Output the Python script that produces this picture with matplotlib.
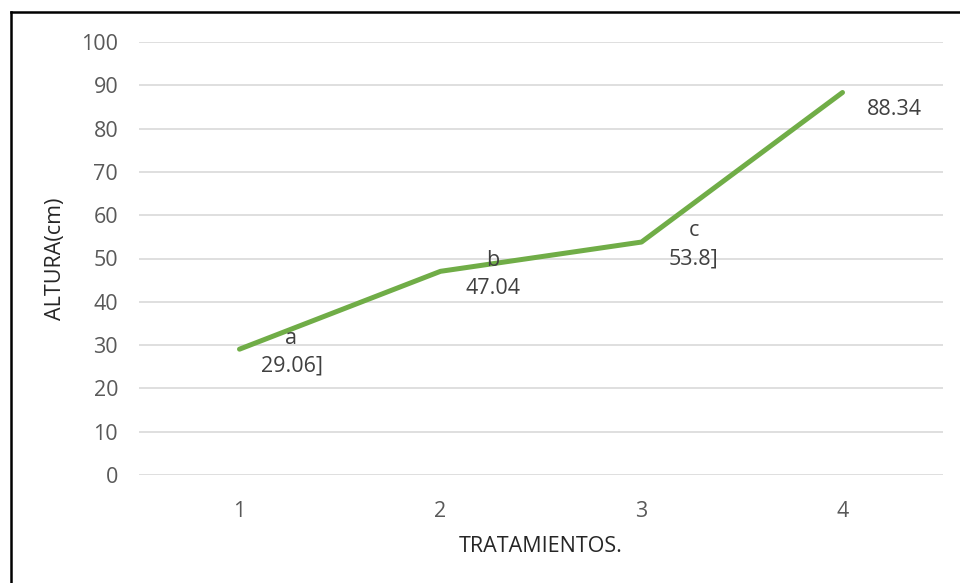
import matplotlib
matplotlib.use('Agg')
import matplotlib.pyplot as plt
from matplotlib.lines import Line2D

plt.rcParams['font.family'] = ['Open Sans', 'DejaVu Sans']

tratamientos = [1, 2, 3, 4]
altura = [29.06, 47.04, 53.8, 88.34]
etiquetas = ['a\n29.06]', 'b\n47.04', 'c\n53.8]', '88.34']
y_ticks = list(range(0, 101, 10))

GREEN = '#70AD47'
GRID = '#D9D9D9'
TICK_COLOR = '#595959'
FS = 15.5

fig = plt.figure(figsize=(9.6, 5.83), dpi=100)
ax = fig.add_axes([139 / 960, 1 - 475 / 583, (943 - 139) / 960, (475 - 42) / 583])

ax.plot(tratamientos, altura, color=GREEN, linewidth=3.6, solid_capstyle='round',
        solid_joinstyle='round', zorder=3)

for x, y, txt in zip(tratamientos, altura, etiquetas):
    dy = -3 if '\n' in txt else -17
    ax.annotate(txt, (x, y), xytext=(52, dy), textcoords='offset pixels',
                ha='center', va='center', fontsize=FS, color='#404040',
                linespacing=1.45, zorder=4)

ax.set_xlim(0.5, 4.5)
ax.set_ylim(0, 100)
ax.set_xticks(tratamientos)
ax.set_yticks(y_ticks)
ax.grid(axis='y', color=GRID, linewidth=1.2)
ax.set_axisbelow(True)
for side in ['top', 'right', 'left', 'bottom']:
    ax.spines[side].set_visible(False)
ax.tick_params(axis='both', length=0, labelsize=FS, colors=TICK_COLOR)
ax.tick_params(axis='y', pad=15)
ax.tick_params(axis='x', pad=19)

ax.set_xlabel('TRATAMIENTOS.', fontsize=FS, color='#262626', labelpad=10)
ax.set_ylabel('ALTURA(cm)', fontsize=FS, color='#262626', labelpad=11)

# chart frame: left and top edges only
fig.add_artist(Line2D([10.5 / 960, 10.5 / 960], [0, 1 - 12 / 583], transform=fig.transFigure,
                      color='black', linewidth=1.8))
fig.add_artist(Line2D([10.5 / 960, 1], [1 - 12 / 583, 1 - 12 / 583], transform=fig.transFigure,
                      color='black', linewidth=1.8))

fig.savefig('out.png', dpi=100, facecolor='white')
